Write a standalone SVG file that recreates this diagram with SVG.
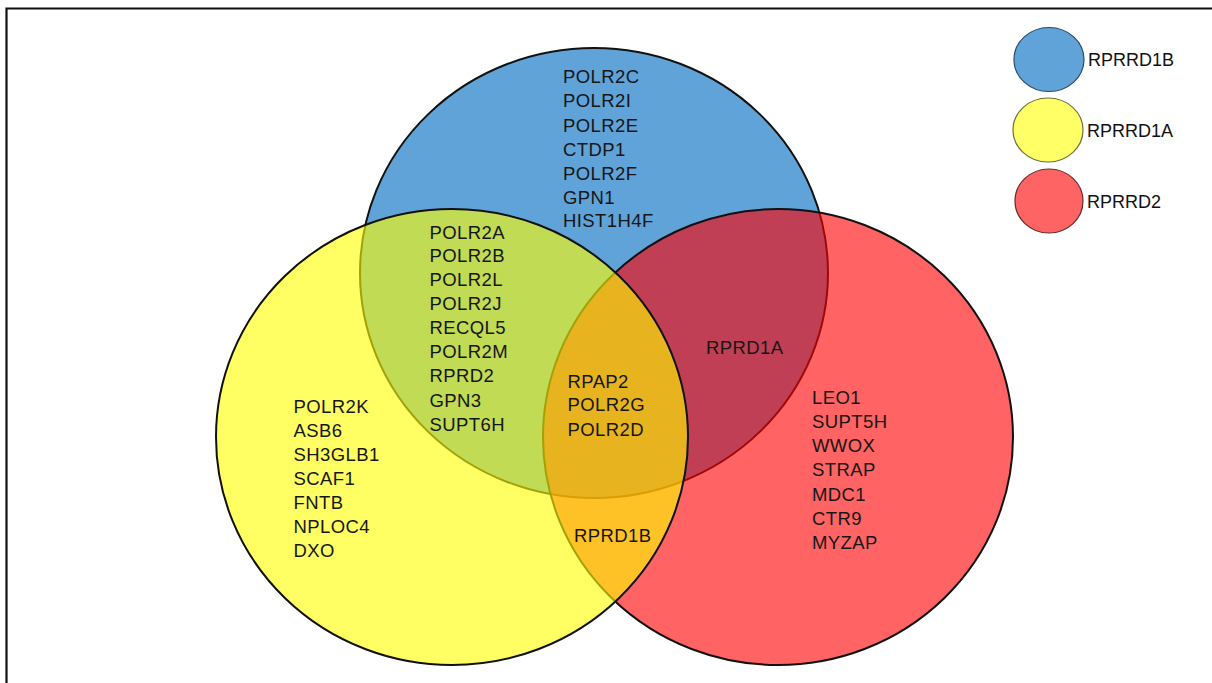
<svg xmlns="http://www.w3.org/2000/svg" width="1212" height="683" viewBox="0 0 1212 683">
<style>
.c{stroke:#111;stroke-width:2}
.blue{fill:#5fa3d8}
.red{fill:#ff0000;fill-opacity:0.61}
.yel{fill:#ffff00;fill-opacity:0.61}
.t{font-family:"Liberation Sans",Arial,sans-serif;font-size:18.5px;letter-spacing:0.4px;fill:#161616}
.lg{font-family:"Liberation Sans",Arial,sans-serif;font-size:18px;fill:#111}
</style>
<rect width="1212" height="683" fill="#fff"/>
<path d="M6.5 683 V8.5 H1212" fill="none" stroke="#111" stroke-width="2.2"/>
<g id="circle-RPRRD1B"><ellipse class="c blue" cx="594" cy="273" rx="234" ry="225"/></g>
<g id="circle-RPRRD2"><ellipse class="c red" cx="778" cy="437" rx="235" ry="228"/></g>
<g id="circle-RPRRD1A"><ellipse class="c yel" cx="452" cy="437" rx="236" ry="228"/></g>
<g id="connectors"></g>
<g id="set-blue" class="t">
<text x="563" y="83">POLR2C</text>
<text x="563" y="107">POLR2I</text>
<text x="563" y="131.5">POLR2E</text>
<text x="563" y="156">CTDP1</text>
<text x="563" y="180">POLR2F</text>
<text x="563" y="204">GPN1</text>
<text x="563" y="227">HIST1H4F</text>
</g>
<g id="set-blue-yellow" class="t">
<text x="429.5" y="238.5">POLR2A</text>
<text x="429.5" y="262">POLR2B</text>
<text x="429.5" y="286">POLR2L</text>
<text x="429.5" y="310">POLR2J</text>
<text x="429.5" y="334">RECQL5</text>
<text x="429.5" y="358">POLR2M</text>
<text x="429.5" y="382">RPRD2</text>
<text x="429.5" y="406.5">GPN3</text>
<text x="429.5" y="430.5">SUPT6H</text>
</g>
<g id="set-yellow" class="t">
<text x="293.5" y="412.5">POLR2K</text>
<text x="293.5" y="436.5">ASB6</text>
<text x="293.5" y="460.5">SH3GLB1</text>
<text x="293.5" y="485">SCAF1</text>
<text x="293.5" y="509">FNTB</text>
<text x="293.5" y="533">NPLOC4</text>
<text x="293.5" y="557">DXO</text>
</g>
<g id="set-all" class="t">
<text x="567.5" y="387.5">RPAP2</text>
<text x="567.5" y="411">POLR2G</text>
<text x="567.5" y="435.5">POLR2D</text>
</g>
<g id="set-blue-red" class="t"><text x="706" y="353.5">RPRD1A</text></g>
<g id="set-yellow-red" class="t"><text x="574" y="541.5">RPRD1B</text></g>
<g id="set-red" class="t">
<text x="812" y="403.5">LEO1</text>
<text x="812" y="427.5">SUPT5H</text>
<text x="812" y="451.5">WWOX</text>
<text x="812" y="476">STRAP</text>
<text x="812" y="500.5">MDC1</text>
<text x="812" y="524.5">CTR9</text>
<text x="812" y="548.5">MYZAP</text>
</g>
<g id="legend-RPRRD1B"><ellipse cx="1049" cy="59.5" rx="35" ry="32" fill="#5fa3d8" stroke="#2a4a6a" stroke-width="1.2"/><text class="lg" x="1088" y="65.5">RPRRD1B</text></g>
<g id="legend-RPRRD1A"><ellipse cx="1048" cy="130" rx="35" ry="32" fill="#ffff66" stroke="#6e6e3a" stroke-width="1.2"/><text class="lg" x="1087" y="136.5">RPRRD1A</text></g>
<g id="legend-RPRRD2"><ellipse cx="1049" cy="201" rx="34" ry="32" fill="#ff6464" stroke="#6a2a2a" stroke-width="1.2"/><text class="lg" x="1087" y="207.5">RPRRD2</text></g>
</svg>
